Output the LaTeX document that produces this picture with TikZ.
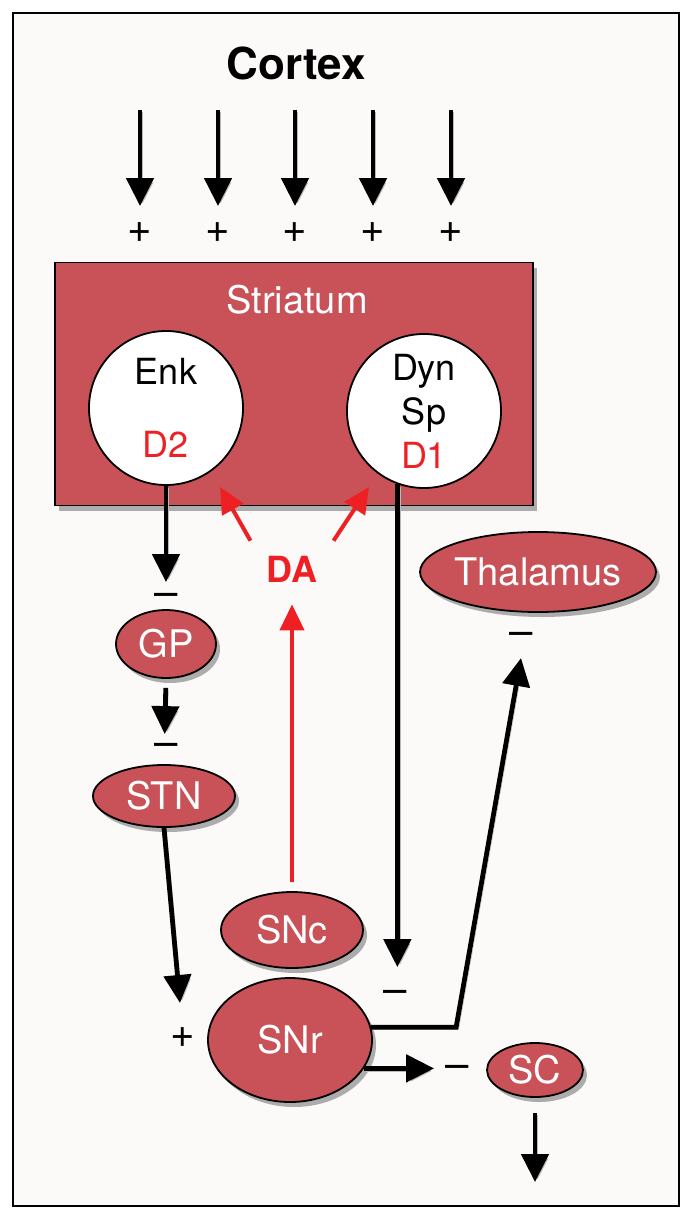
\documentclass[tikz,border=0pt]{standalone}
\usepackage{fontspec}
\setmainfont{TeX Gyre Heros}
\usetikzlibrary{arrows.meta,shapes.geometric,shadows}
\definecolor{nuc}{RGB}{200,82,88}
\definecolor{dared}{RGB}{238,32,36}
\definecolor{paper}{RGB}{252,249,249}
\tikzset{
  ashade/.style={preaction={draw=gray!55, transform canvas={shift={(2.5pt,-2.5pt)}}}},
  exc/.style={line width=4.8pt, -{Triangle[width=27pt,length=28pt]}, ashade},
  dar/.style={dared, line width=4pt, -{Triangle[width=24pt,length=26pt]}},
  shade/.style={drop shadow={shadow xshift=4pt, shadow yshift=-5pt, opacity=1, fill=gray!65}},
  nucleus/.style={ellipse, draw, line width=1.8pt, fill=nuc, text=white, inner sep=0pt,
    font=\fontsize{38}{38}\selectfont, shade},
  box/.style={rectangle, draw, line width=1.8pt, fill=nuc, shade},
  cell/.style={circle, draw, line width=1.8pt, fill=white, minimum size=154pt, inner sep=0pt,
    align=center, font=\fontsize{36}{44}\selectfont},
  sign/.style={inner sep=0pt, font=\fontsize{42}{42}\selectfont},
  da/.style={inner xsep=16pt, inner ysep=15pt, text=dared, font=\bfseries\fontsize{36}{36}\selectfont}
}
\begin{document}
\begin{tikzpicture}[x=1pt,y=-1pt]
  \useasboundingbox (0,0) rectangle (689,1220);
  \fill[white] (0,0) rectangle (689,1220);
  \draw[line width=2pt, fill=paper] (13,13) rectangle (679,1206);

  % cortex input
  \node[font=\bfseries\fontsize{44}{44}\selectfont] (ctx) at (296,63) {Cortex};
  \foreach \x [count=\i] in {140,218,295,373,451}
  {
    \coordinate (in\i) at (\x,110);
    \node[sign] (pl\i) at (\x,233) {+};
    \draw[exc] (in\i) -- ([yshift=27pt]pl\i.center);
  }

  % striatum
  \node[box, minimum width=478pt, minimum height=243pt] (str) at (294,384) {};
  \node[text=white, font=\fontsize{38}{38}\selectfont] (strl) at (297,300) {Striatum};
  \node[cell] (enk) at (166,408) {Enk\\[29pt]\textcolor{dared}{D2}};
  \node[cell] (dyn) at (424,411) {Dyn\\Sp\\\textcolor{dared}{D1}};

  % nuclei
  \node[nucleus, minimum width=100pt, minimum height=68pt] (gp) at (166,644) {GP};
  \node[nucleus, minimum width=142pt, minimum height=62pt] (stn) at (164,796) {STN};
  \node[nucleus, minimum width=220pt, minimum height=80pt] (thal) at (538,572) {Thalamus};
  \node[nucleus, minimum width=142pt, minimum height=76pt] (snc) at (292,930) {SNc};
  \node[nucleus, minimum width=164pt, minimum height=124pt] (snr) at (290,1040) {SNr};
  \node[nucleus, minimum width=96pt, minimum height=54pt] (sc) at (535,1070) {SC};
  \node[da] (da) at (292,569) {DA};

  % signs
  \node[sign] (m1) at (166,600) {–};
  \node[sign] (m2) at (166,750) {–};
  \node[sign] (m3) at (395,997) {–};
  \node[sign] (m4) at (521,639) {–};
  \node[sign] (m5) at (457,1072) {–};
  \node[sign] (pl6) at (183,1038) {+};

  \coordinate (d2in) at (220,487);
  \coordinate (d1in) at (369,487);
  \coordinate (out) at (535,1182);

  % connections
  \draw[exc, shorten >=27pt] (enk.south) -- (gp.north);
  \draw[exc, shorten <=9pt, shorten >=30pt] (gp.south) -- (stn.north);
  \draw[exc] (stn.south) -- ([shift={(-3pt,35pt)}]pl6.center);
  \draw[exc, shorten >=10pt] (dyn.-110) -- (dyn.-110 |- snr.north);
  \draw[exc] (snr.9) -- ++(85,0) -- ([yshift=-19pt]m4.center);
  \draw[exc, shorten >=52pt] (snr.-21) -- (snr.-21 -| sc.west);
  \draw[exc, shorten <=15pt] (sc.south) -- (out);

  % dopamine
  \draw[dar, shorten <=9pt, shorten >=7pt] (snc.north) -- (da.south);
  \draw[dar] (da.north west) -- (d2in);
  \draw[dar] (da.north east) -- (d1in);
\end{tikzpicture}
\end{document}
